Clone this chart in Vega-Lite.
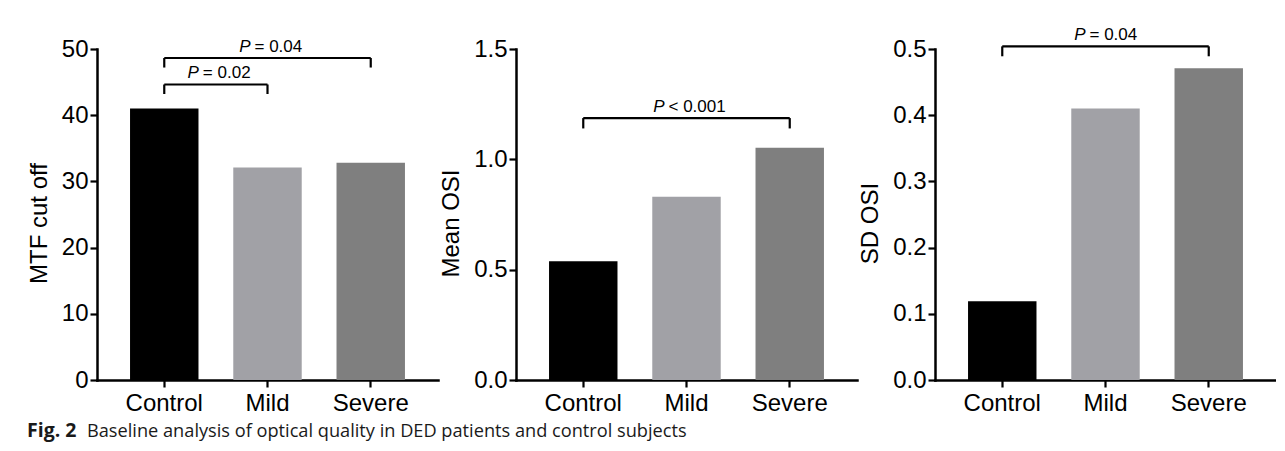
{
  "$schema": "https://vega.github.io/schema/vega-lite/v6.json",
  "background": "white",
  "padding": {"left": 27, "top": 26, "right": 0, "bottom": 0},
  "columns": 3,
  "bounds": "flush",
  "align": "each",
  "spacing": {"column": 78, "row": 47},
  "config": {
    "view": {"stroke": null},
    "axis": {
      "domainColor": "black", "domainWidth": 2.5, "domainCap": "square",
      "tickColor": "black", "tickWidth": 2.2, "tickSize": 7,
      "labelFont": "Liberation Sans", "labelFontSize": 24, "labelColor": "black",
      "titleFont": "Liberation Sans", "titleFontSize": 24, "titleFontWeight": "normal", "titleColor": "black",
      "grid": false
    },
    "axisX": {"labelPadding": 4, "labelAngle": 0},
    "axisY": {"labelPadding": 2, "titlePadding": 10, "titleY": 174}
  },
  "concat": [
    {
      "width": 341, "height": 331,
      "layer": [
        {
          "data": {"values": [
            {"group": "Control", "value": 41.0},
            {"group": "Mild", "value": 32.1},
            {"group": "Severe", "value": 32.8}
          ]},
          "mark": {"type": "bar"},
          "encoding": {
            "x": {"field": "group", "type": "nominal", "title": null,
                  "scale": {"domain": ["Control", "Mild", "Severe"], "paddingInner": 0.337, "paddingOuter": 0.32},
                  "axis": {"title": null}},
            "y": {"field": "value", "type": "quantitative",
                  "scale": {"domain": [0, 50], "nice": false},
                  "axis": {"title": "MTF cut off", "values": [0, 10, 20, 30, 40, 50]}},
            "color": {"field": "group", "type": "nominal", "legend": null,
                      "scale": {"domain": ["Control", "Mild", "Severe"], "range": ["#000000", "#A1A1A6", "#7F7F7F"]}}
          }
        },
        {
          "data": {"name": "brk1", "values": [
            {"from": "Control", "to": "Mild", "y": 44.64, "yEnd": 43.2},
            {"from": "Control", "to": "Severe", "y": 48.64, "yEnd": 47.2}
          ]},
          "layer": [
            {"mark": {"type": "rule", "color": "black", "strokeWidth": 2.2},
             "encoding": {"x": {"field": "from", "type": "nominal"}, "x2": {"field": "to"}, "y": {"field": "y", "type": "quantitative"}}},
            {"mark": {"type": "rule", "color": "black", "strokeWidth": 2.2},
             "encoding": {"x": {"field": "from", "type": "nominal"}, "y": {"field": "y", "type": "quantitative"}, "y2": {"field": "yEnd"}}},
            {"mark": {"type": "rule", "color": "black", "strokeWidth": 2.2},
             "encoding": {"x": {"field": "to", "type": "nominal"}, "y": {"field": "y", "type": "quantitative"}, "y2": {"field": "yEnd"}}}
          ]
        },
        {
          "data": {"values": [{"at": "Mild", "p": "P", "rest": "= 0.04", "ty": 49.59}]},
          "layer": [
            {"mark": {"type": "text", "font": "Liberation Sans", "fontSize": 17, "fontStyle": "italic", "align": "right", "baseline": "alphabetic", "dx": -17, "color": "black"},
             "encoding": {"x": {"field": "at", "type": "nominal"}, "y": {"field": "ty", "type": "quantitative"}, "text": {"field": "p"}}},
            {"mark": {"type": "text", "font": "Liberation Sans", "fontSize": 17, "align": "left", "baseline": "alphabetic", "dx": -13, "color": "black"},
             "encoding": {"x": {"field": "at", "type": "nominal"}, "y": {"field": "ty", "type": "quantitative"}, "text": {"field": "rest"}}}
          ]
        },
        {
          "data": {"values": [{"at": "Control", "p": "P", "rest": "= 0.02", "ty": 45.57}]},
          "layer": [
            {"mark": {"type": "text", "font": "Liberation Sans", "fontSize": 17, "fontStyle": "italic", "align": "right", "baseline": "alphabetic", "dx": -17, "color": "black"},
             "encoding": {"x": {"field": "at", "type": "nominal", "bandPosition": 1.254}, "y": {"field": "ty", "type": "quantitative"}, "text": {"field": "p"}}},
            {"mark": {"type": "text", "font": "Liberation Sans", "fontSize": 17, "align": "left", "baseline": "alphabetic", "dx": -13, "color": "black"},
             "encoding": {"x": {"field": "at", "type": "nominal", "bandPosition": 1.254}, "y": {"field": "ty", "type": "quantitative"}, "text": {"field": "rest"}}}
          ]
        }
      ]
    },
    {
      "width": 341, "height": 331,
      "layer": [
        {
          "data": {"values": [
            {"group": "Control", "value": 0.538},
            {"group": "Mild", "value": 0.831},
            {"group": "Severe", "value": 1.052}
          ]},
          "mark": {"type": "bar"},
          "encoding": {
            "x": {"field": "group", "type": "nominal",
                  "scale": {"domain": ["Control", "Mild", "Severe"], "paddingInner": 0.337, "paddingOuter": 0.32},
                  "axis": {"title": null}},
            "y": {"field": "value", "type": "quantitative",
                  "scale": {"domain": [0, 1.5], "nice": false},
                  "axis": {"title": "Mean OSI", "values": [0, 0.5, 1.0, 1.5], "format": ".1f"}},
            "color": {"field": "group", "type": "nominal", "legend": null,
                      "scale": {"domain": ["Control", "Mild", "Severe"], "range": ["#000000", "#A1A1A6", "#7F7F7F"]}}
          }
        },
        {
          "data": {"values": [
            {"from": "Control", "to": "Severe", "y": 1.187, "yEnd": 1.14}
          ]},
          "layer": [
            {"mark": {"type": "rule", "color": "black", "strokeWidth": 2.2},
             "encoding": {"x": {"field": "from", "type": "nominal"}, "x2": {"field": "to"}, "y": {"field": "y", "type": "quantitative"}}},
            {"mark": {"type": "rule", "color": "black", "strokeWidth": 2.2},
             "encoding": {"x": {"field": "from", "type": "nominal"}, "y": {"field": "y", "type": "quantitative"}, "y2": {"field": "yEnd"}}},
            {"mark": {"type": "rule", "color": "black", "strokeWidth": 2.2},
             "encoding": {"x": {"field": "to", "type": "nominal"}, "y": {"field": "y", "type": "quantitative"}, "y2": {"field": "yEnd"}}}
          ]
        },
        {
          "data": {"values": [{"at": "Mild", "p": "P", "rest": "< 0.001", "ty": 1.216}]},
          "layer": [
            {"mark": {"type": "text", "font": "Liberation Sans", "fontSize": 17, "fontStyle": "italic", "align": "right", "baseline": "alphabetic", "dx": -22, "color": "black"},
             "encoding": {"x": {"field": "at", "type": "nominal"}, "y": {"field": "ty", "type": "quantitative"}, "text": {"field": "p"}}},
            {"mark": {"type": "text", "font": "Liberation Sans", "fontSize": 17, "align": "left", "baseline": "alphabetic", "dx": -18, "color": "black"},
             "encoding": {"x": {"field": "at", "type": "nominal"}, "y": {"field": "ty", "type": "quantitative"}, "text": {"field": "rest"}}}
          ]
        }
      ]
    },
    {
      "width": 341, "height": 331,
      "layer": [
        {
          "data": {"values": [
            {"group": "Control", "value": 0.119},
            {"group": "Mild", "value": 0.41},
            {"group": "Severe", "value": 0.471}
          ]},
          "mark": {"type": "bar"},
          "encoding": {
            "x": {"field": "group", "type": "nominal",
                  "scale": {"domain": ["Control", "Mild", "Severe"], "paddingInner": 0.337, "paddingOuter": 0.32},
                  "axis": {"title": null}},
            "y": {"field": "value", "type": "quantitative",
                  "scale": {"domain": [0, 0.5], "nice": false},
                  "axis": {"title": "SD OSI", "values": [0, 0.1, 0.2, 0.3, 0.4, 0.5], "format": ".1f"}},
            "color": {"field": "group", "type": "nominal", "legend": null,
                      "scale": {"domain": ["Control", "Mild", "Severe"], "range": ["#000000", "#A1A1A6", "#7F7F7F"]}}
          }
        },
        {
          "data": {"values": [
            {"from": "Control", "to": "Severe", "y": 0.504, "yEnd": 0.489}
          ]},
          "layer": [
            {"mark": {"type": "rule", "color": "black", "strokeWidth": 2.2},
             "encoding": {"x": {"field": "from", "type": "nominal"}, "x2": {"field": "to"}, "y": {"field": "y", "type": "quantitative"}}},
            {"mark": {"type": "rule", "color": "black", "strokeWidth": 2.2},
             "encoding": {"x": {"field": "from", "type": "nominal"}, "y": {"field": "y", "type": "quantitative"}, "y2": {"field": "yEnd"}}},
            {"mark": {"type": "rule", "color": "black", "strokeWidth": 2.2},
             "encoding": {"x": {"field": "to", "type": "nominal"}, "y": {"field": "y", "type": "quantitative"}, "y2": {"field": "yEnd"}}}
          ]
        },
        {
          "data": {"values": [{"at": "Mild", "p": "P", "rest": "= 0.04", "ty": 0.513}]},
          "layer": [
            {"mark": {"type": "text", "font": "Liberation Sans", "fontSize": 17, "fontStyle": "italic", "align": "right", "baseline": "alphabetic", "dx": -20, "color": "black"},
             "encoding": {"x": {"field": "at", "type": "nominal"}, "y": {"field": "ty", "type": "quantitative"}, "text": {"field": "p"}}},
            {"mark": {"type": "text", "font": "Liberation Sans", "fontSize": 17, "align": "left", "baseline": "alphabetic", "dx": -16, "color": "black"},
             "encoding": {"x": {"field": "at", "type": "nominal"}, "y": {"field": "ty", "type": "quantitative"}, "text": {"field": "rest"}}}
          ]
        }
      ]
    },
    {
      "width": 341, "height": 20,
      "data": {"values": [{"pos": 0, "fig": "Fig. 2", "caption": "Baseline analysis of optical quality in DED patients and control subjects"}]},
      "layer": [
        {"mark": {"type": "text", "font": "Open Sans", "fontSize": 19.5, "fontWeight": "bold", "align": "left", "baseline": "alphabetic", "dx": -70, "color": "#1a1a1a"},
         "encoding": {"x": {"field": "pos", "type": "quantitative", "scale": {"domain": [0, 1]}, "axis": null}, "text": {"field": "fig"}}},
        {"mark": {"type": "text", "font": "Open Sans", "fontSize": 18.2, "align": "left", "baseline": "alphabetic", "dx": -10, "color": "#1a1a1a"},
         "encoding": {"x": {"field": "pos", "type": "quantitative", "scale": {"domain": [0, 1]}, "axis": null}, "text": {"field": "caption"}}}
      ]
    }
  ]
}
